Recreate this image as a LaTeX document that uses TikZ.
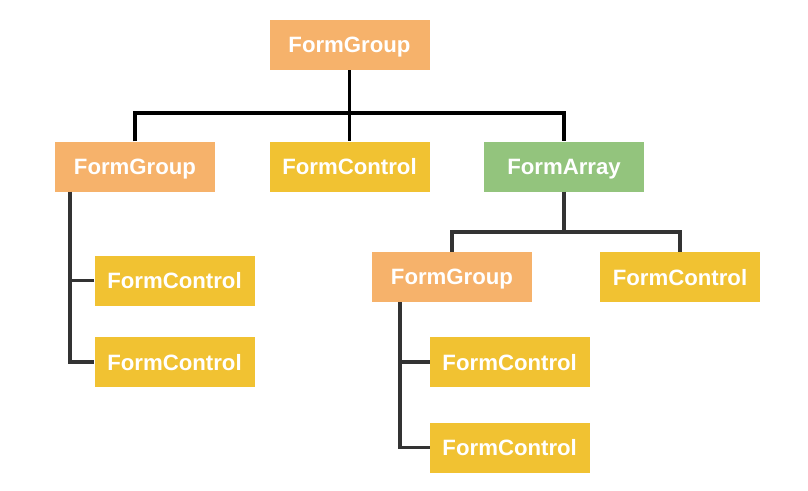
\documentclass[tikz,border=0pt]{standalone}
\usepackage{fontspec}
\setmainfont{Liberation Sans}
\definecolor{fgorange}{HTML}{F6B26B}
\definecolor{fcyellow}{HTML}{F1C232}
\definecolor{fagreen}{HTML}{93C47D}
\definecolor{linegray}{HTML}{333333}
\begin{document}
\begin{tikzpicture}[x=1pt,y=-1pt,
  box/.style={minimum width=160pt,minimum height=50pt,inner sep=0pt,
    text=white,text depth=0pt,font=\bfseries\fontsize{22.2}{24}\selectfont},
  grp/.style={box,fill=fgorange},
  ctl/.style={box,fill=fcyellow},
  arr/.style={box,fill=fagreen},
  topline/.style={draw=black,line width=3.5pt,line join=miter},
  subline/.style={draw=linegray,line width=3.2pt,line join=miter}]
\useasboundingbox (0,0) rectangle (808,490);
\node[grp] (g0) at (349.5,45) {FormGroup};
\node[grp] (g1) at (135,166.5) {FormGroup};
\node[ctl] (c1) at (349.5,166.5) {FormControl};
\node[arr] (a1) at (564,166.5) {FormArray};
\node[ctl] (c2) at (174.5,280.5) {FormControl};
\node[ctl] (c3) at (174.5,362) {FormControl};
\node[grp] (g2) at (452,277) {FormGroup};
\node[ctl] (c4) at (680,277) {FormControl};
\node[ctl] (c5) at (509.7,362) {FormControl};
\node[ctl] (c6) at (509.7,447.7) {FormControl};
% top level connectors
\coordinate (j0) at (349.5,113);
\path[topline] (g0.south) -- (c1.north);
\path[topline] (g1.north) |- (j0) -| (a1.north);
% FormArray connectors
\coordinate (j1) at (564,232);
\path[subline] (a1.south) -- (j1);
\path[subline] (g2.north) |- (j1) -| (c4.north);
% left FormGroup connectors
\coordinate (l1) at (70,191.5);
\path[subline] (l1) |- (c3.west);
\path[subline] (c2.west) -- (c2.west -| l1);
% lower FormGroup connectors
\coordinate (l2) at (400,302);
\path[subline] (l2) |- (c6.west);
\path[subline] (c5.west) -- (c5.west -| l2);
\end{tikzpicture}
\end{document}
